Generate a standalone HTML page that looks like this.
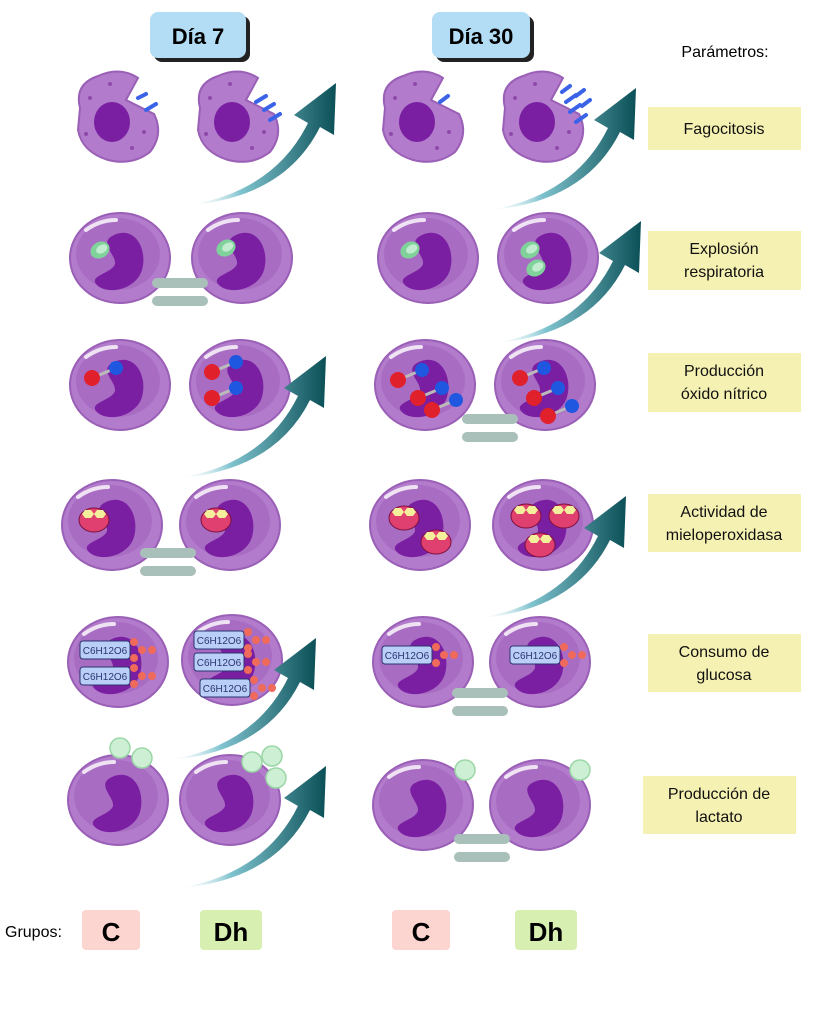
<!DOCTYPE html>
<html><head><meta charset="utf-8"><style>
html,body{margin:0;padding:0;background:#fff;}
body{width:819px;height:1024px;overflow:hidden;font-family:"Liberation Sans",sans-serif;}
</style></head><body>
<svg width="819" height="1024" viewBox="0 0 819 1024" xmlns="http://www.w3.org/2000/svg" font-family="Liberation Sans, sans-serif">
<defs>
<linearGradient id="ag" x1="0" y1="0" x2="1" y2="0">
<stop offset="0" stop-color="#ffffff" stop-opacity="0.2"/>
<stop offset="0.35" stop-color="#7fc3cf"/>
<stop offset="1" stop-color="#0b4f57"/>
</linearGradient>
<g id="arrow">
<path d="M0,0 Q85,-15 118,-82 L104,-90 L146,-122 L144,-70 L130,-78 Q95,-8 0,0 Z" fill="url(#ag)"/>
</g>
<g id="cell">
<ellipse cx="0" cy="0" rx="50" ry="45" fill="#b27bcb" stroke="#9a5fb6" stroke-width="2"/>
<ellipse cx="-2" cy="-4" rx="42" ry="36" fill="#a86dc3"/>
<path d="M-8,-22 C14,-34 28,-10 22,12 C16,32 -14,38 -24,26 C-30,18 -12,16 -6,8 C0,0 -22,-14 -8,-22 Z" fill="#7b1fa2"/>
<path d="M-34,-28 Q-20,-38 -4,-38" stroke="#fff" stroke-width="4" fill="none" stroke-linecap="round" opacity="0.8"/>
</g>
<g id="mac">
<path d="M-40,-10 Q-46,-34 -22,-42 Q0,-52 18,-40 L6,-18 L34,-4 Q44,16 30,34 Q12,48 -12,42 Q-38,34 -42,12 Z" fill="#b27bcb" stroke="#9a5fb6" stroke-width="2"/>
<ellipse cx="-8" cy="4" rx="18" ry="20" fill="#7b1fa2"/>
<circle cx="-30" cy="-20" r="2" fill="#8d4aa9"/><circle cx="-34" cy="16" r="2" fill="#8d4aa9"/><circle cx="12" cy="30" r="2" fill="#8d4aa9"/><circle cx="24" cy="14" r="2" fill="#8d4aa9"/><circle cx="-10" cy="-34" r="2" fill="#8d4aa9"/>
</g>
<g id="eq"><rect x="-28" y="-14" width="56" height="10" rx="5" fill="#a9c0ba"/><rect x="-28" y="4" width="56" height="10" rx="5" fill="#a9c0ba"/></g>
<g id="no"><line x1="0" y1="0" x2="24" y2="-10" stroke="#bbb" stroke-width="3"/><circle cx="0" cy="0" r="8" fill="#e0202a"/><circle cx="24" cy="-10" r="7" fill="#1f57e0"/></g>
<g id="mpo"><ellipse cx="0" cy="0" rx="15" ry="12" fill="#e04070" stroke="#7b1040"/><polygon points="-9,-10 -3,-10 0,-6 -3,-2 -9,-2 -12,-6" fill="#f3ef9a"/><polygon points="3,-10 9,-10 12,-6 9,-2 3,-2 0,-6" fill="#f3ef9a"/></g>
<g id="glu"><rect x="-38" y="-9" width="50" height="18" rx="3" fill="#b9cff8" stroke="#2c3470"/><text x="-13" y="4" font-size="10" text-anchor="middle" fill="#2c3470">C6H12O6</text><circle cx="16" cy="-8" r="4" fill="#ef6a5a"/><circle cx="16" cy="8" r="4" fill="#ef6a5a"/><circle cx="24" cy="0" r="4" fill="#ef6a5a"/><circle cx="34" cy="0" r="4" fill="#ef6a5a"/></g>
<g id="ball"><circle r="10" fill="#cdf0d4" stroke="#9ad6a6" stroke-width="1.5"/></g>
<g id="dna"><ellipse cx="0" cy="0" rx="10" ry="8" fill="#7fd39a" transform="rotate(-30)"/><ellipse cx="2" cy="0" rx="6" ry="4" fill="#c2ecd0" transform="rotate(-30)"/></g>
</defs>

<!-- headers -->
<rect x="154" y="16" width="96" height="46" rx="8" fill="#222"/>
<rect x="150" y="12" width="96" height="46" rx="8" fill="#b3dcf5"/>
<text x="198" y="44" font-size="22" font-weight="bold" text-anchor="middle">Día 7</text>
<rect x="436" y="16" width="98" height="46" rx="8" fill="#222"/>
<rect x="432" y="12" width="98" height="46" rx="8" fill="#b3dcf5"/>
<text x="481" y="44" font-size="22" font-weight="bold" text-anchor="middle">Día 30</text>
<text x="725" y="57" font-size="16" text-anchor="middle">Parámetros:</text>

<!-- params -->
<g font-size="16" text-anchor="middle" fill="#111">
<rect x="648" y="107" width="153" height="43" fill="#f5f1b2"/><text x="724" y="134">Fagocitosis</text>
<rect x="648" y="231" width="153" height="59" fill="#f5f1b2"/><text x="724" y="254">Explosión</text><text x="724" y="277">respiratoria</text>
<rect x="648" y="353" width="153" height="59" fill="#f5f1b2"/><text x="724" y="376">Producción</text><text x="724" y="399">óxido nítrico</text>
<rect x="648" y="494" width="153" height="58" fill="#f5f1b2"/><text x="724" y="517">Actividad de</text><text x="724" y="540">mieloperoxidasa</text>
<rect x="648" y="634" width="153" height="58" fill="#f5f1b2"/><text x="724" y="657">Consumo de</text><text x="724" y="680">glucosa</text>
<rect x="643" y="776" width="153" height="58" fill="#f5f1b2"/><text x="719" y="799">Producción de</text><text x="719" y="822">lactato</text>
</g>

<!-- row1 -->
<use href="#mac" x="120" y="118"/><use href="#mac" x="240" y="118"/><use href="#mac" x="425" y="118"/><use href="#mac" x="545" y="118"/>
<g stroke="#3a63e8" stroke-width="4" stroke-linecap="round">
<line x1="138" y1="98" x2="146" y2="94"/><line x1="146" y1="110" x2="156" y2="104"/>
<line x1="256" y1="102" x2="266" y2="96"/><line x1="264" y1="110" x2="274" y2="104"/><line x1="270" y1="120" x2="280" y2="114"/>
<line x1="440" y1="102" x2="448" y2="96"/>
<line x1="562" y1="92" x2="570" y2="86"/><line x1="566" y1="102" x2="576" y2="95"/><line x1="576" y1="96" x2="584" y2="90"/><line x1="570" y1="112" x2="580" y2="105"/><line x1="582" y1="106" x2="590" y2="100"/><line x1="576" y1="122" x2="586" y2="115"/>
</g>
<use href="#arrow" x="190" y="205"/><use href="#arrow" x="490" y="210"/>

<!-- row2 -->
<use href="#cell" x="120" y="258"/><use href="#cell" x="242" y="258"/><use href="#cell" x="428" y="258"/><use href="#cell" x="548" y="258"/>
<use href="#dna" x="100" y="250"/><use href="#dna" x="226" y="248"/><use href="#dna" x="410" y="250"/><use href="#dna" x="530" y="250"/><use href="#dna" x="536" y="268"/>
<use href="#eq" x="180" y="292"/>
<use href="#arrow" x="495" y="343"/>

<!-- row3 -->
<use href="#cell" x="120" y="385"/><use href="#cell" x="240" y="385"/><use href="#cell" x="425" y="385"/><use href="#cell" x="545" y="385"/>
<use href="#no" x="92" y="378"/>
<use href="#no" x="212" y="372"/><use href="#no" x="212" y="398"/>
<use href="#no" x="398" y="380"/><use href="#no" x="418" y="398"/><use href="#no" x="432" y="410"/>
<use href="#no" x="520" y="378"/><use href="#no" x="534" y="398"/><use href="#no" x="548" y="416"/>
<use href="#eq" x="490" y="428"/>
<use href="#arrow" x="180" y="478"/>

<!-- row4 -->
<use href="#cell" x="112" y="525"/><use href="#cell" x="230" y="525"/><use href="#cell" x="420" y="525"/><use href="#cell" x="543" y="525"/>
<use href="#mpo" x="94" y="520"/><use href="#mpo" x="216" y="520"/>
<use href="#mpo" x="404" y="518"/><use href="#mpo" x="436" y="542"/>
<use href="#mpo" x="526" y="516"/><use href="#mpo" x="564" y="516"/><use href="#mpo" x="540" y="545"/>
<use href="#eq" x="168" y="562"/>
<use href="#arrow" x="480" y="618"/>

<!-- row5 -->
<use href="#cell" x="118" y="662"/><use href="#cell" x="232" y="660"/><use href="#cell" x="423" y="662"/><use href="#cell" x="540" y="662"/>
<use href="#glu" x="118" y="650"/><use href="#glu" x="118" y="676"/>
<use href="#glu" x="232" y="640"/><use href="#glu" x="232" y="662"/><use href="#glu" x="238" y="688"/>
<use href="#glu" x="420" y="655"/><use href="#glu" x="548" y="655"/>
<use href="#eq" x="480" y="702"/>
<use href="#arrow" x="170" y="760"/>

<!-- row6 -->
<use href="#cell" x="118" y="800"/><use href="#cell" x="230" y="800"/><use href="#cell" x="423" y="805"/><use href="#cell" x="540" y="805"/>
<use href="#ball" x="120" y="748"/><use href="#ball" x="142" y="758"/>
<use href="#ball" x="252" y="762"/><use href="#ball" x="272" y="756"/><use href="#ball" x="276" y="778"/>
<use href="#ball" x="465" y="770"/><use href="#ball" x="580" y="770"/>
<use href="#eq" x="482" y="848"/>
<use href="#arrow" x="180" y="888"/>

<!-- groups -->
<text x="5" y="937" font-size="16">Grupos:</text>
<rect x="82" y="910" width="58" height="40" rx="4" fill="#fcd4d0"/><text x="111" y="941" font-size="26" font-weight="bold" text-anchor="middle">C</text>
<rect x="200" y="910" width="62" height="40" rx="4" fill="#d7f0b2"/><text x="231" y="941" font-size="26" font-weight="bold" text-anchor="middle">Dh</text>
<rect x="392" y="910" width="58" height="40" rx="4" fill="#fcd4d0"/><text x="421" y="941" font-size="26" font-weight="bold" text-anchor="middle">C</text>
<rect x="515" y="910" width="62" height="40" rx="4" fill="#d7f0b2"/><text x="546" y="941" font-size="26" font-weight="bold" text-anchor="middle">Dh</text>
</svg>
</body></html>
